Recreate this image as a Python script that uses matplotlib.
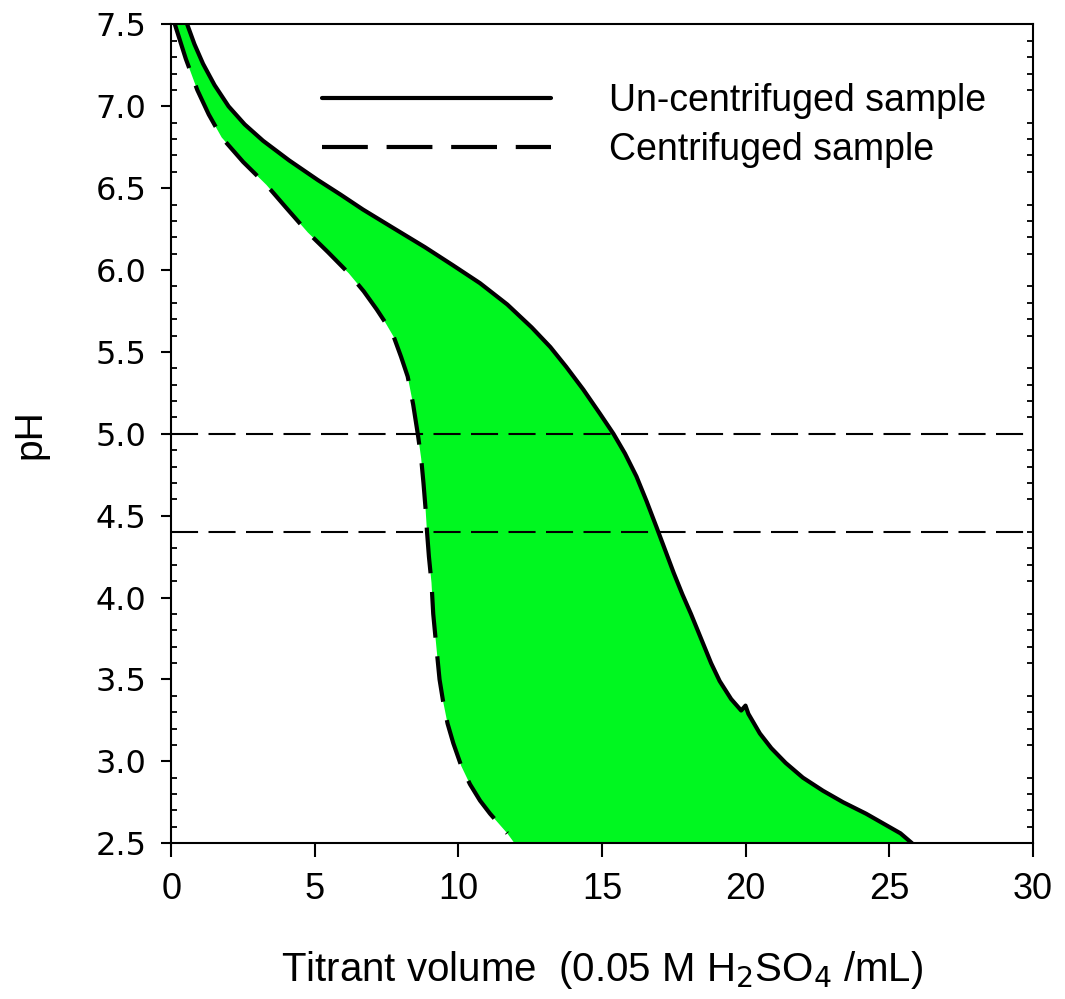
import matplotlib
matplotlib.use('Agg')
import matplotlib.pyplot as plt
from matplotlib.ticker import MultipleLocator
import numpy as np

plt.rcParams['font.family'] = ['Liberation Sans', 'DejaVu Sans']

## un-centrifuged sample: titrant volume (mL) and pH
vol_unc = [0.55, 0.8, 1.1, 1.5, 1.99, 2.55, 3.19, 4.1, 5.1, 5.9, 6.67, 7.7,
           8.83, 9.8, 10.75, 11.7, 12.55, 13.2, 13.75, 14.35, 14.94, 15.4,
           15.8, 16.2, 16.55, 16.9, 17.2, 17.5, 17.8, 18.1, 18.45, 18.8, 19.1,
           19.5, 19.85, 20.0, 20.1, 20.5, 20.9, 21.4, 22.0, 22.7, 23.4, 24.2,
           24.8, 25.4, 25.8]
ph_unc = [7.50, 7.38, 7.26, 7.13, 7.00, 6.89, 6.79, 6.67, 6.55, 6.46, 6.37, 6.26,
          6.14, 6.03, 5.92, 5.79, 5.65, 5.53, 5.41, 5.27, 5.12, 5.00,
          4.88, 4.74, 4.59, 4.43, 4.29, 4.15, 4.02, 3.90, 3.75, 3.60, 3.49,
          3.38, 3.31, 3.34, 3.29, 3.17, 3.08, 2.99, 2.90, 2.82, 2.75, 2.68,
          2.62, 2.56, 2.50]

## centrifuged sample
vol_cen = [0.12, 0.5, 0.9, 1.3, 1.75, 2.5, 3.31, 4.0, 4.75, 5.45, 6.18, 6.7,
           7.15, 7.45, 7.75, 8.0, 8.23, 8.42, 8.59, 8.7, 8.78, 8.85, 8.9,
           8.97, 9.06, 9.12, 9.24, 9.34, 9.46, 9.62, 9.82, 10.1, 10.4, 10.75,
           11.1, 11.4, 11.7, 11.95]
ph_cen = [7.50, 7.29, 7.10, 6.95, 6.81, 6.66, 6.52, 6.38, 6.23, 6.11, 5.98, 5.87,
          5.76, 5.68, 5.59, 5.47, 5.35, 5.18, 4.99, 4.85, 4.70, 4.55, 4.41,
          4.25, 4.09, 3.90, 3.68, 3.50, 3.37, 3.23, 3.11, 2.97, 2.86, 2.76,
          2.68, 2.62, 2.56, 2.50]

ref_ph = [5.0, 4.4]  ## reference pH levels

fig = plt.figure(figsize=(10.65, 9.99), dpi=100)
ax = fig.add_axes([0.161, 0.156, 0.8085, 0.8195])

## shaded region between the two titration curves
ax.fill(np.concatenate([vol_unc, vol_cen[::-1]]),
        np.concatenate([ph_unc, ph_cen[::-1]]),
        color='#00f720', lw=0, zorder=1)

ax.plot(vol_unc, ph_unc, color='black', lw=3, label='Un-centrifuged sample',
        solid_capstyle='round', solid_joinstyle='round', zorder=3)
ax.plot(vol_cen[:-1], ph_cen[:-1], color='black', lw=3, dashes=(11, 4.5),
        label='Centrifuged sample', zorder=3)

for p in ref_ph:
    ax.axhline(p, color='black', lw=1.5, dashes=(13, 5), zorder=2)

ax.set_xlim(0, 30)
ax.set_ylim(2.5, 7.5)
ax.xaxis.set_major_locator(MultipleLocator(5))
ax.yaxis.set_major_locator(MultipleLocator(0.5))
ax.yaxis.set_minor_locator(MultipleLocator(0.1))
ax.yaxis.set_major_formatter(plt.FormatStrFormatter('%.1f'))

ax.tick_params(axis='x', which='major', direction='out', length=10, width=1.5,
               top=False, labelsize=26, pad=11)
ax.tick_params(axis='y', which='major', direction='out', length=7, width=1.5,
               right=False, labelsize=23, pad=11)
ax.tick_params(axis='y', which='minor', direction='in', length=4, width=1.3,
               left=True, right=True)
for lab in ax.get_yticklabels():
    lab.set_family('DejaVu Sans')

for s in ax.spines.values():
    s.set_linewidth(1.5)

ax.set_xlabel('Titrant volume  (0.05 M H$_2$SO$_4$ /mL)', fontsize=29, labelpad=30)
ax.set_ylabel('pH', fontsize=28, labelpad=34)

leg = ax.legend(loc='upper left', bbox_to_anchor=(0.175, 0.928), frameon=False,
                fontsize=27, handlelength=6.1, handletextpad=1.55,
                labelspacing=0.33, borderpad=0, borderaxespad=0)

fig.savefig('out.png', dpi=100)
